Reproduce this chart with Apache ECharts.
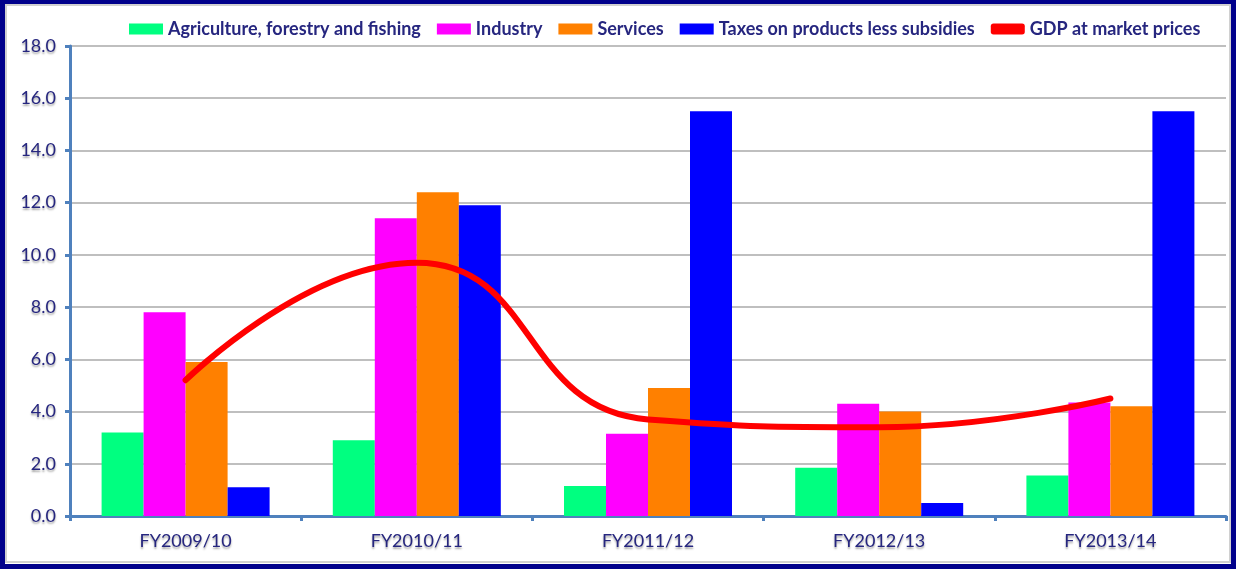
<!DOCTYPE html>
<html>
<head>
<meta charset="utf-8">
<script src="https://cdn.jsdelivr.net/npm/echarts@6/dist/echarts.min.js"></script>
<style>
  html, body { margin: 0; padding: 0; background: #fff; }
  #chart { width: 1236px; height: 569px; }
</style>
</head>
<body>
<div id="chart"></div>
<script>
const categories = ['FY2009/10', 'FY2010/11', 'FY2011/12', 'FY2012/13', 'FY2013/14'];
const agriculture = [3.2, 2.9, 1.15, 1.85, 1.55];
const industry = [7.8, 11.4, 3.15, 4.3, 4.35];
const services = [5.9, 12.4, 4.9, 4.0, 4.2];
const taxes = [1.1, 11.9, 15.5, 0.5, 15.5];
const gdp = [5.2, 9.7, 3.7, 3.4, 4.5];
const yTicks = [0, 2, 4, 6, 8, 10, 12, 14, 16, 18];

const navy = '#26267f';
const font = 'Lato';
const labelStyle = {
  color: navy, fontFamily: font, fontWeight: 'normal', fontSize: 18,
  textShadowColor: 'rgba(0,0,0,0.35)', textShadowOffsetY: 2, textShadowBlur: 2
};

const chart = echarts.init(document.getElementById('chart'), null, { renderer: 'canvas' });

function barSeries(name, data, color) {
  return {
    name, type: 'bar', data, barWidth: 42, barGap: '0%',
    itemStyle: { color }, emphasis: { disabled: true }
  };
}

chart.setOption({
  animation: false,
  backgroundColor: '#ffffff',
  graphic: [
    { type: 'rect', shape: { x: 2.5, y: 1.5, width: 1231, height: 565 },
      style: { fill: 'none', stroke: '#00008b', lineWidth: 5 }, z: 100 },
    { type: 'rect', shape: { x: 6, y: 5, width: 1224, height: 557 },
      style: { fill: 'none', stroke: '#d0d0d0', lineWidth: 2 }, z: 100 }
  ],
  legend: {
    top: 15, left: 124,
    itemWidth: 34, itemHeight: 11, itemGap: 16,
    textStyle: { color: navy, fontFamily: font, fontWeight: 'bold', fontSize: 18 },
    data: [
      { name: 'Agriculture, forestry and fishing', icon: 'rect' },
      { name: 'Industry', icon: 'rect' },
      { name: 'Services', icon: 'rect' },
      { name: 'Taxes on products less subsidies', icon: 'rect' },
      { name: 'GDP at market prices', icon: 'roundRect' }
    ]
  },
  grid: { left: 70, right: 10, top: 46, bottom: 53, containLabel: false },
  xAxis: {
    type: 'category', data: categories,
    axisLine: { lineStyle: { color: '#4f81bd', width: 3 } },
    axisTick: { show: true, length: 5, lineStyle: { color: '#4f81bd', width: 3 } },
    axisLabel: Object.assign({ margin: 16 }, labelStyle),
    splitLine: { show: false }
  },
  yAxis: {
    type: 'value', min: 0, max: 18, interval: 2,
    axisLine: { show: true, lineStyle: { color: '#4f81bd', width: 3 } },
    axisTick: { show: true, length: 5, lineStyle: { color: '#4f81bd', width: 3 } },
    axisLabel: Object.assign({ margin: 14, formatter: v => yTicks.includes(v) ? v.toFixed(1) : '' }, labelStyle),
    splitLine: { lineStyle: { color: '#bfbfbf', width: 2 } }
  },
  series: [
    barSeries('Agriculture, forestry and fishing', agriculture, '#00ff80'),
    barSeries('Industry', industry, '#ff00ff'),
    barSeries('Services', services, '#ff8000'),
    barSeries('Taxes on products less subsidies', taxes, '#0000ff'),
    {
      name: 'GDP at market prices', type: 'line', data: gdp, smooth: 0.5,
      showSymbol: false, symbol: 'none',
      lineStyle: { color: '#ff0000', width: 6, cap: 'round' },
      itemStyle: { color: '#ff0000' }, z: 10, emphasis: { disabled: true }
    }
  ]
});
</script>
</body>
</html>
